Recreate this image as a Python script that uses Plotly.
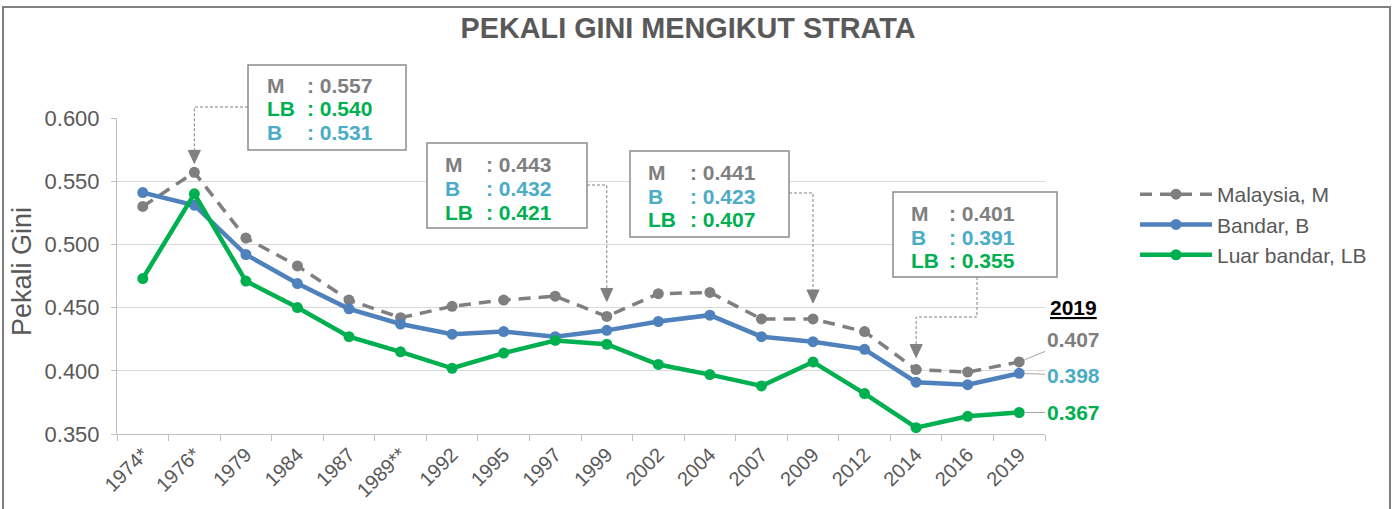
import plotly.graph_objects as go

# ---------------- data ----------------
categories = ["1974*", "1976*", "1979", "1984", "1987", "1989**", "1992", "1995", "1997",
              "1999", "2002", "2004", "2007", "2009", "2012", "2014", "2016", "2019"]
malaysia = [0.530, 0.557, 0.505, 0.483, 0.456, 0.442, 0.451, 0.456, 0.459,
            0.443, 0.461, 0.462, 0.441, 0.441, 0.431, 0.401, 0.399, 0.407]
bandar = [0.541, 0.531, 0.492, 0.469, 0.449, 0.437, 0.429, 0.431, 0.427,
          0.432, 0.439, 0.444, 0.427, 0.423, 0.417, 0.391, 0.389, 0.398]
luar_bandar = [0.473, 0.540, 0.471, 0.450, 0.427, 0.415, 0.402, 0.414, 0.424,
               0.421, 0.405, 0.397, 0.388, 0.407, 0.382, 0.355, 0.364, 0.367]
y_ticks = [0.35, 0.40, 0.45, 0.50, 0.55, 0.60]

series_names = {"M": "Malaysia, M", "B": "Bandar, B", "LB": "Luar bandar, LB"}
series_values = {"M": malaysia, "B": bandar, "LB": luar_bandar}

# ---------------- style ----------------
W, H = 1395, 509
PL, PR, PT, PB = 117, 1045, 118, 434   # plot area in screen pixels
YMIN, YMAX = 0.35, 0.60
FONT = "Liberation Sans, Arial, sans-serif"
C_M, C_B, C_LB = "#7f7f7f", "#4f81bd", "#00b050"
TXT_COL = {"M": "#7f7f7f", "B": "#4bacc6", "LB": "#00b050"}
GREY_TXT = "#595959"


def fx(px):
    return (px - PL) / (PR - PL)


def fy(py):
    return (PB - py) / (PB - PT)


def ypix(v):
    return PB - (v - YMIN) / (YMAX - YMIN) * (PB - PT)


def xpix(i):
    return PL + (i + 0.5) * (PR - PL) / len(categories)


fig = go.Figure()
fig.add_trace(go.Scatter(x=categories, y=malaysia, name=series_names["M"], mode="lines+markers",
                         line=dict(color=C_M, width=3.5, dash="12px,8px"),
                         marker=dict(size=11, color=C_M)))
fig.add_trace(go.Scatter(x=categories, y=bandar, name=series_names["B"], mode="lines+markers",
                         line=dict(color=C_B, width=4.5),
                         marker=dict(size=11, color=C_B)))
fig.add_trace(go.Scatter(x=categories, y=luar_bandar, name=series_names["LB"], mode="lines+markers",
                         line=dict(color=C_LB, width=4.5),
                         marker=dict(size=11, color=C_LB)))

shapes = []
annotations = []

# outer frame
shapes.append(dict(type="rect", xref="paper", yref="paper", x0=fx(3), x1=fx(1390), y0=fy(530), y1=fy(7),
                   line=dict(color="#808080", width=2), fillcolor="rgba(0,0,0,0)", layer="above"))

# callout boxes
boxes = [
    dict(idx=1, order=["M", "LB", "B"], x0=248, x1=406, y0=65, y1=150, rows=[85, 108, 132],
         lx=265, cx=305, conn="left", hy=107, gap=9),
    dict(idx=9, order=["M", "B", "LB"], x0=427, x1=587, y0=143, y1=228, rows=[164, 188, 212],
         lx=443, cx=484, conn="right", hy=185, gap=15),
    dict(idx=13, order=["M", "B", "LB"], x0=630, x1=789, y0=151, y1=237, rows=[172, 196, 219],
         lx=646, cx=688, conn="right", hy=193, gap=16),
    dict(idx=15, order=["M", "B", "LB"], x0=893, x1=1057, y0=192, y1=277, rows=[213, 237, 260],
         lx=909, cx=947, conn="bottom", hy=317, gap=12),
]
AH_LEN, AH_HALF = 13, 6
for b in boxes:
    i = b["idx"]
    cxp = xpix(i)
    tip = ypix(malaysia[i]) - b["gap"]
    base = tip - AH_LEN
    if b["conn"] == "left":
        pts = [(b["x0"], b["hy"]), (cxp, b["hy"]), (cxp, base)]
    elif b["conn"] == "right":
        pts = [(b["x1"], b["hy"]), (cxp, b["hy"]), (cxp, base)]
    else:
        mid = (b["x0"] + b["x1"]) / 2 + 2
        pts = [(mid, b["y1"]), (mid, b["hy"]), (cxp, b["hy"]), (cxp, base)]
    path = "M" + " L".join(f"{fx(px):.5f},{fy(py):.5f}" for px, py in pts)
    shapes.append(dict(type="path", xref="paper", yref="paper", path=path,
                       line=dict(color="#808080", width=1, dash="3px,2px"), layer="above"))
    tri = (f"M{fx(cxp - AH_HALF):.5f},{fy(base):.5f} L{fx(cxp + AH_HALF):.5f},{fy(base):.5f} "
           f"L{fx(cxp):.5f},{fy(tip):.5f} Z")
    shapes.append(dict(type="path", xref="paper", yref="paper", path=tri,
                       line=dict(color="#808080", width=1), fillcolor="#808080", layer="above"))
    shapes.append(dict(type="rect", xref="paper", yref="paper", x0=fx(b["x0"]), x1=fx(b["x1"]),
                       y0=fy(b["y1"]), y1=fy(b["y0"]), line=dict(color="#8c8c8c", width=1.5),
                       fillcolor="white", layer="above"))
    for key, ry in zip(b["order"], b["rows"]):
        col = TXT_COL[key]
        annotations.append(dict(xref="paper", yref="paper", x=fx(b["lx"]), y=fy(ry), xanchor="left",
                                yanchor="middle", showarrow=False, text=f"<b>{key}</b>",
                                font=dict(family=FONT, size=21, color=col)))
        annotations.append(dict(xref="paper", yref="paper", x=fx(b["cx"]), y=fy(ry), xanchor="left",
                                yanchor="middle", showarrow=False,
                                text=f"<b>: {series_values[key][i]:.3f}</b>",
                                font=dict(family=FONT, size=21, color=col)))

# 2019 end labels
annotations.append(dict(xref="paper", yref="paper", x=fx(1073), y=fy(307), xanchor="center", yanchor="middle",
                        showarrow=False, text="<b><u>2019</u></b>",
                        font=dict(family=FONT, size=21, color="#000000")))
end_offsets = {"M": (54, -22), "B": (54, 2), "LB": (54, 0)}
last = len(categories) - 1
for key in ["M", "B", "LB"]:
    v = series_values[key][-1]
    ax, ay = end_offsets[key]
    annotations.append(dict(xref="x", yref="y", x=last, y=v, ax=ax, ay=ay,
                            showarrow=True, arrowhead=0, arrowwidth=1, arrowcolor="#a6a6a6", standoff=6,
                            text=f"<b>{v:.3f}</b>", font=dict(family=FONT, size=21, color=TXT_COL[key])))

# y axis title
annotations.append(dict(xref="paper", yref="paper", x=fx(22), y=fy(272), xanchor="center", yanchor="middle",
                        showarrow=False, text="Pekali Gini", textangle=-90,
                        font=dict(family=FONT, size=27, color=GREY_TXT)))

fig.update_layout(
    width=W, height=H,
    margin=dict(l=PL, r=W - PR, t=PT, b=H - PB, autoexpand=False),
    paper_bgcolor="white", plot_bgcolor="white",
    font=dict(family=FONT, color=GREY_TXT),
    title=dict(text="<b>PEKALI GINI MENGIKUT STRATA</b>", x=688 / W, y=1 - 28 / H,
               xref="container", yref="container", xanchor="center", yanchor="middle",
               font=dict(family=FONT, size=28.8, color=GREY_TXT)),
    showlegend=True,
    legend=dict(x=fx(1135), y=fy(174), xanchor="left", yanchor="top",
                font=dict(family=FONT, size=21, color=GREY_TXT), itemwidth=72,
                bgcolor="rgba(0,0,0,0)", traceorder="normal"),
    xaxis=dict(type="category", categoryorder="array", categoryarray=categories,
               range=[-0.5, len(categories) - 0.5], tickangle=-45, tickson="boundaries",
               ticks="outside", ticklen=6, tickcolor="#bfbfbf", showline=True, linecolor="#bfbfbf",
               linewidth=1, showgrid=False, zeroline=False,
               tickfont=dict(family=FONT, size=20, color=GREY_TXT)),
    yaxis=dict(range=[YMIN, YMAX], tickvals=y_ticks, tickformat=".3f",
               showgrid=True, gridcolor="#d9d9d9", gridwidth=1, showline=True, linecolor="#bfbfbf",
               linewidth=1, ticks="outside", ticklen=5, tickcolor="#bfbfbf", zeroline=False,
               ticklabelstandoff=7,
               tickfont=dict(family=FONT, size=22, color=GREY_TXT)),
    shapes=shapes,
    annotations=annotations,
)

fig.write_html("out.html", config={"displayModeBar": False},
               post_script="document.body.style.margin='0px';")
